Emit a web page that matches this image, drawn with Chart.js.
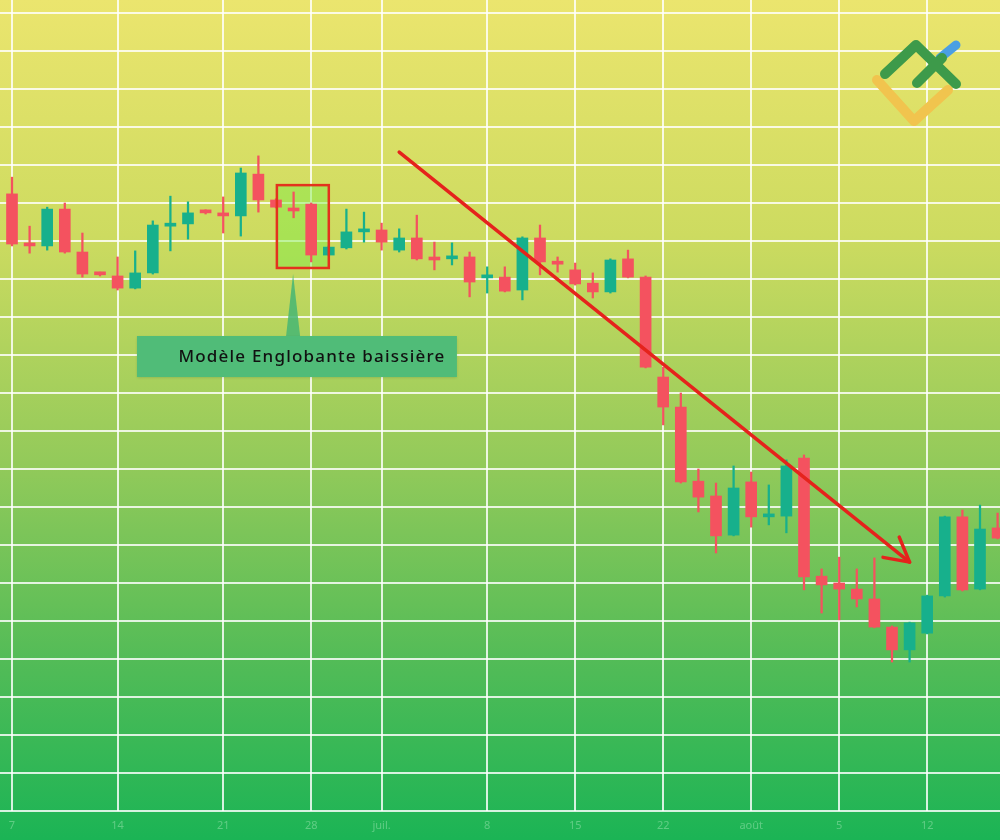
<!DOCTYPE html>
<html><head><meta charset="utf-8">
<script src="https://cdn.jsdelivr.net/npm/chart.js@4.4.1/dist/chart.umd.min.js"></script>
<style>
html,body{margin:0;padding:0;background:#1db455;}
#wrap{position:relative;width:1000px;height:840px;overflow:hidden;}
canvas{display:block;}
#logo{position:absolute;left:0;top:0;pointer-events:none;}
</style></head>
<body><div id="wrap"><canvas id="c" width="1000" height="840"></canvas>
<svg id="logo" width="1000" height="840" viewBox="0 0 1000 840">
 <polyline points="877,80 914,121 948,90" fill="none" stroke="#f1c44e" stroke-width="10" stroke-linecap="round" stroke-linejoin="round"/>
 <line x1="940" y1="58" x2="956" y2="45" stroke="#4a9fe3" stroke-width="9" stroke-linecap="round"/>
 <polyline points="885,74 916,45 956,84" fill="none" stroke="#3d9a4a" stroke-width="10" stroke-linecap="round" stroke-linejoin="round"/>
 <line x1="917" y1="83" x2="942" y2="58" stroke="#3d9a4a" stroke-width="10" stroke-linecap="round"/>
</svg></div>
<script>
// ---- data (price units) ----
const openP  = [162.4,149.2,148.7,158.4,147.1,141.6,140.8,137.6,141.6,153.9,154.5,157.9,157.1,156.6,167.6,160.8,158.4,159.7,146.3,148.2,152.4,152.9,147.6,150.8,145.5,145.3,145.8,140.3,140.5,137.1,150.8,144.5,142.4,138.9,136.6,145.3,140.5,114.2,106.3,86.8,82.9,72.6,86.6,77.4,77.6,92.9,61.8,60.0,58.4,55.8,48.4,42.4,46.8,56.6,77.4,58.4,74.5];
const highP  = [166.8,153.9,158.9,160.0,152.1,141.8,145.8,147.4,155.3,161.8,160.3,158.2,161.6,169.2,172.4,161.1,162.9,160.0,148.7,158.4,157.6,154.7,153.2,156.8,149.7,149.5,147.1,143.2,143.2,151.1,154.2,145.8,144.2,141.6,145.3,147.6,140.8,116.8,110.0,90.0,86.3,90.8,89.2,85.8,92.4,93.7,63.7,66.8,63.7,66.6,48.7,49.7,56.8,77.6,79.2,80.5,78.4];
const lowP   = [148.7,146.8,147.6,146.8,140.5,140.8,137.1,137.4,141.3,147.4,150.5,157.1,152.1,151.3,157.6,158.7,156.1,144.5,146.1,147.9,149.7,147.6,147.1,145.0,142.4,143.7,135.3,136.3,136.6,134.5,141.1,141.8,138.4,135.0,136.3,140.3,116.6,101.6,86.3,78.7,67.9,72.4,74.7,75.3,73.2,58.2,52.1,50.3,53.7,48.2,39.2,39.2,46.6,56.3,57.9,58.2,71.6];
const closeP = [149.2,148.7,158.4,147.1,141.3,141.1,137.6,141.6,154.2,154.5,157.4,157.4,156.6,167.9,160.8,158.9,157.9,146.3,148.4,152.4,152.9,149.7,150.8,145.3,145.0,145.8,139.2,140.8,136.8,150.8,144.5,143.9,138.7,136.6,145.0,140.5,116.8,106.3,86.6,82.6,72.4,85.0,77.4,77.9,90.8,61.6,59.5,58.4,55.8,48.4,42.4,49.5,56.6,77.4,58.2,74.2,71.8];
const tickIdx    = [0, 6, 12, 17, 21, 27, 32, 37, 42, 47, 52];
const tickLabels = ['7', '14', '21', '28', 'juil.', '8', '15', '22', 'août', '5', '12'];
// annotations in data coordinates (candle index, price)
const patternBox  = {x0: 15.05, x1: 18.0, yTop: 164.7, yBottom: 142.9};
const trendArrow  = {x0: 22.0, y0: 173.4, x1: 51.0, y1: 65.5};
const calloutBox  = {x0: 7.1, x1: 25.28, yTop: 125.0, yBottom: 114.2, apexX: 15.97, apexY: 141.3, text: 'Modèle Englobante baissière'};

const UP = '#17b08c', DOWN = '#f4525f';
const colors = openP.map((o,i)=> closeP[i] >= o ? UP : DOWN);
const bodies = openP.map((o,i)=>({x:i, y:[o, closeP[i]]}));
const wicks  = openP.map((o,i)=>({x:i, y:[lowP[i], highP[i]]}));

const gridColor = 'rgba(255,255,255,0.82)';

const bgPlugin = {
  id:'bg',
  beforeDraw(chart){
    const {ctx, width, height} = chart;
    const g = ctx.createLinearGradient(0,0,0,height);
    g.addColorStop(0,'#ebe56e');
    g.addColorStop(0.28,'#cddb60');
    g.addColorStop(0.55,'#93ca5a');
    g.addColorStop(0.8,'#4fbb57');
    g.addColorStop(1,'#1bb455');
    ctx.save(); ctx.fillStyle = g; ctx.fillRect(0,0,width,height); ctx.restore();
  }
};

const annoPlugin = {
  id:'anno',
  beforeDatasetsDraw(chart){
    const {ctx, scales:{x,y}} = chart;
    const l = x.getPixelForValue(patternBox.x0), r = x.getPixelForValue(patternBox.x1);
    const t = y.getPixelForValue(patternBox.yTop), b = y.getPixelForValue(patternBox.yBottom);
    ctx.save();
    ctx.fillStyle = 'rgba(125,235,70,0.45)';
    ctx.fillRect(l,t,r-l,b-t);
    ctx.restore();
  },
  afterDatasetsDraw(chart){
    const {ctx, scales:{x,y}} = chart;
    ctx.save();
    const l = x.getPixelForValue(patternBox.x0), r = x.getPixelForValue(patternBox.x1);
    const t = y.getPixelForValue(patternBox.yTop), b = y.getPixelForValue(patternBox.yBottom);
    ctx.strokeStyle = '#e3321d'; ctx.lineWidth = 2.5;
    ctx.strokeRect(l,t,r-l,b-t);
    const bl = x.getPixelForValue(calloutBox.x0), br = x.getPixelForValue(calloutBox.x1);
    const bt = y.getPixelForValue(calloutBox.yTop), bb = y.getPixelForValue(calloutBox.yBottom);
    const ax = x.getPixelForValue(calloutBox.apexX), ay = y.getPixelForValue(calloutBox.apexY);
    ctx.fillStyle = 'rgba(70,182,115,0.85)';
    ctx.beginPath(); ctx.moveTo(ax, ay); ctx.lineTo(ax-7, bt); ctx.lineTo(ax+7, bt); ctx.closePath(); ctx.fill();
    ctx.shadowColor = 'rgba(0,0,0,0.15)'; ctx.shadowBlur = 3; ctx.shadowOffsetY = 1;
    ctx.fillStyle = '#50bc78';
    ctx.fillRect(bl, bt, br-bl, bb-bt);
    ctx.shadowColor = 'transparent';
    ctx.fillStyle = '#111';
    ctx.font = '500 17px "Noto Sans", "Open Sans", sans-serif';
    if ('letterSpacing' in ctx) ctx.letterSpacing = '1.2px';
    ctx.textAlign = 'center'; ctx.textBaseline = 'middle';
    ctx.fillText(calloutBox.text, (bl+br)/2 + 15, (bt+bb)/2 + 1);
    if ('letterSpacing' in ctx) ctx.letterSpacing = '0px';
    const x0 = x.getPixelForValue(trendArrow.x0), y0 = y.getPixelForValue(trendArrow.y0);
    const x1 = x.getPixelForValue(trendArrow.x1), y1 = y.getPixelForValue(trendArrow.y1);
    ctx.strokeStyle = '#e5231c'; ctx.lineWidth = 3.5; ctx.lineCap = 'round'; ctx.lineJoin = 'round';
    ctx.beginPath(); ctx.moveTo(x0,y0); ctx.lineTo(x1,y1); ctx.stroke();
    const ang = Math.atan2(y1-y0, x1-x0), len = 27, spread = 0.5;
    ctx.beginPath();
    ctx.moveTo(x1 - len*Math.cos(ang-spread), y1 - len*Math.sin(ang-spread));
    ctx.lineTo(x1, y1);
    ctx.lineTo(x1 - len*Math.cos(ang+spread), y1 - len*Math.sin(ang+spread));
    ctx.stroke();
    ctx.restore();
  }
};

new Chart(document.getElementById('c'), {
  type:'bar',
  data:{datasets:[
    {label:'wick', data:wicks, backgroundColor:colors, barThickness:1.6, grouped:false, order:2},
    {label:'body', data:bodies, backgroundColor:colors, barThickness:11, minBarLength:3, grouped:false, order:1}
  ]},
  options:{
    responsive:false, animation:false, devicePixelRatio:1,
    layout:{padding:0},
    plugins:{legend:{display:false}, tooltip:{enabled:false}},
    scales:{
      x:{type:'linear', min:-12/17.6, max:988/17.6, offset:false,
        afterBuildTicks:s=>{s.ticks = tickIdx.map(v=>({value:v}));},
        afterFit:s=>{s.height = 29;},
        ticks:{callback:(v,i)=>tickLabels[i], color:'rgba(230,255,230,0.32)', font:{size:11, family:'"Noto Sans", sans-serif'}, padding:8, maxRotation:0, autoSkip:false},
        grid:{color:gridColor, lineWidth:2, drawTicks:false, offset:false},
        border:{display:false}
      },
      y:{type:'linear', min:0, max:811/3.8,
        afterBuildTicks:s=>{const t=[]; for(let v=0; v<=210; v+=10) t.push({value:v}); s.ticks=t;},
        afterFit:s=>{s.width = 0;},
        ticks:{display:false},
        grid:{color:gridColor, lineWidth:2, drawTicks:false},
        border:{display:false}
      }
    }
  },
  plugins:[bgPlugin, annoPlugin]
});
</script>
</body></html>
